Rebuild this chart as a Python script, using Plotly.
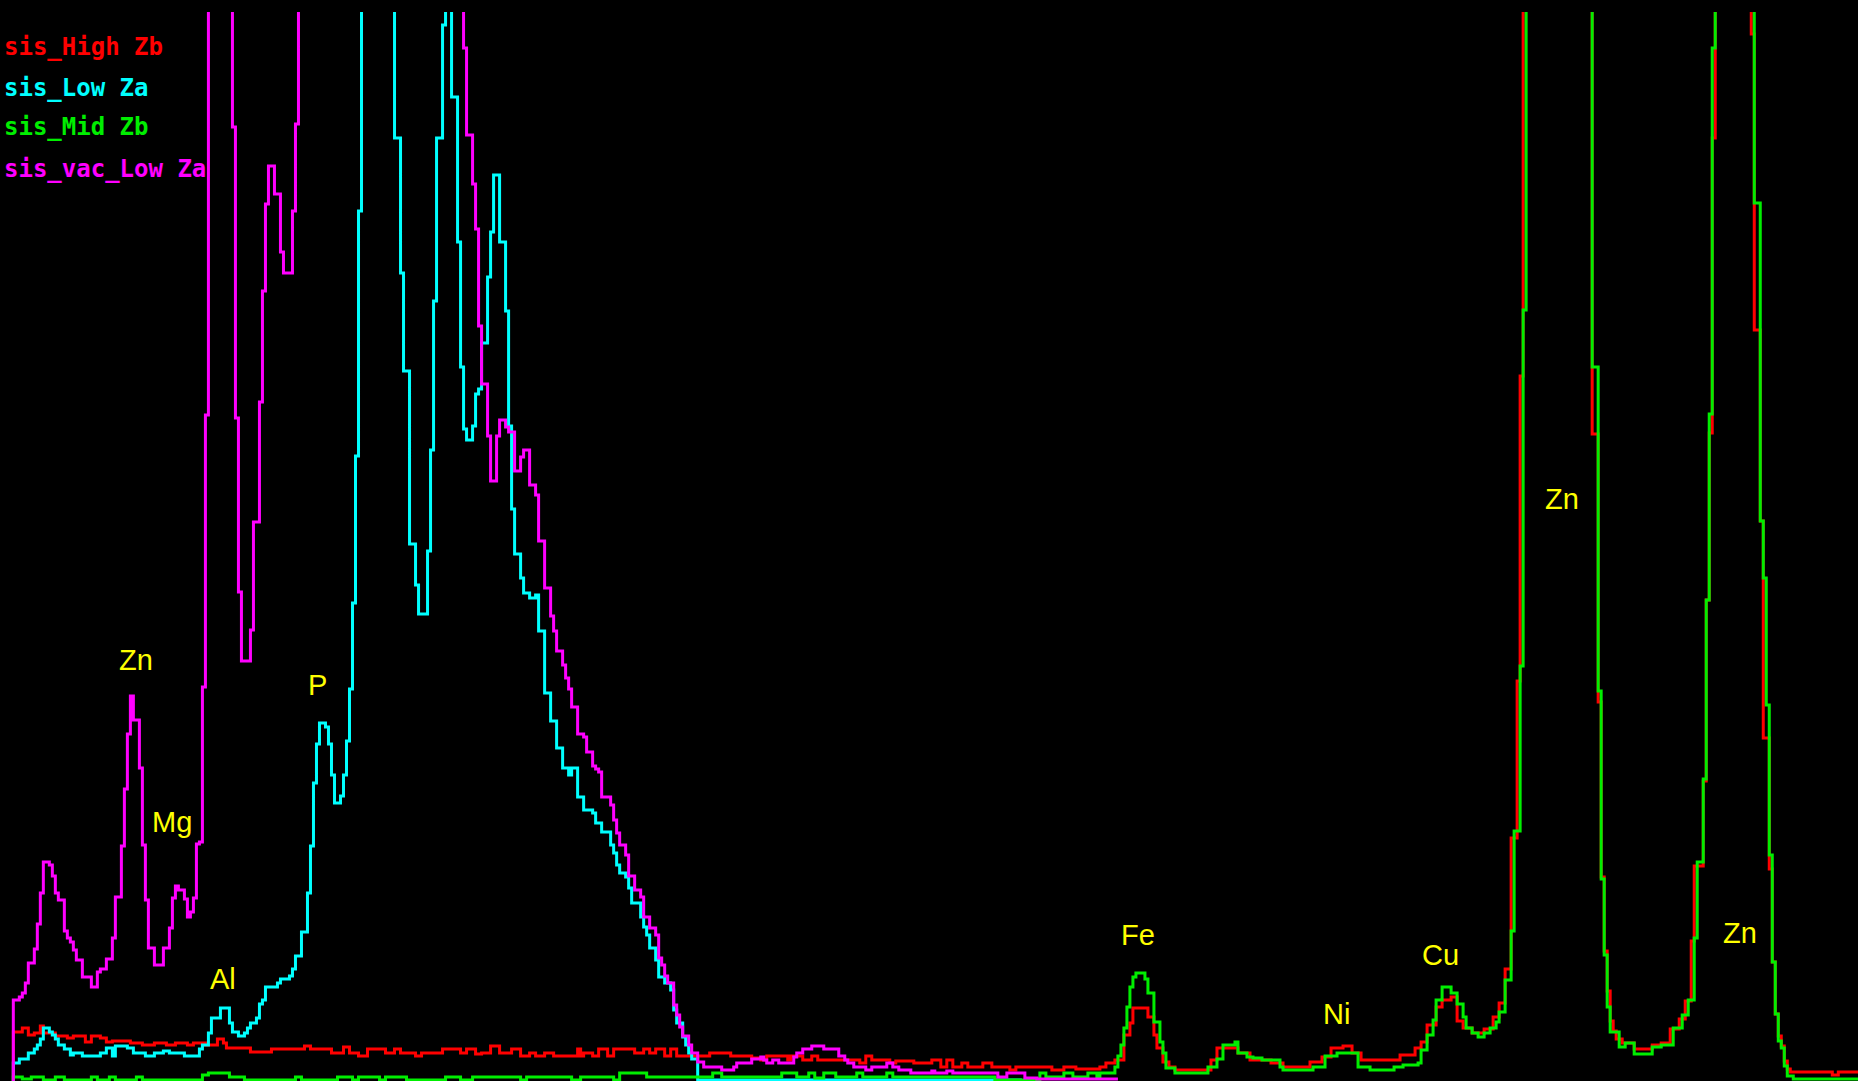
import plotly.graph_objects as go

# EDS spectrum: channel numbers and counts (step data), energy calibration
E0_KEV = 0.329
GAIN_KEV = 0.016

HIGH_CH = [4,4,7,9,11,13,14,18,22,24,28,30,33,35,37,43,47,51,55,58,62,64,68,72,74,75,83,90,101,103,
           110,114,116,119,122,128,131,133,138,140,147,153,155,158,160,163,166,170,173,176,
           178,181,184,192,193,194,197,199,202,204,211,214,216,218,221,223,225,236,243,250,
           253,255,262,263,267,270,272,286,288,290,296,298,304,310,313,315,317,320,322,327,
           330,336,338,350,354,358,366,368,371,374,376,377,382,384,385,387,389,391,403,405,
           412,416,423,427,436,440,443,447,450,453,466,471,473,475,478,480,483,485,487,490,
           494,497,499,501,503,505,506,507,530,532,533,534,535,536,537,538,540,544,550,553,
           556,559,561,563,564,567,568,569,570,571,583,584,586,587,589,590,591,592,593,594,
           595,596,610,612,619]
HIGH_CT = [0,49,53,46,48,55,48,45,43,45,39,45,43,39,40,38,36,38,36,38,36,38,36,42,38,33,29,32,35,32,
           28,34,28,25,32,28,32,28,25,28,32,28,32,27,28,35,28,32,25,28,
           25,28,25,32,25,28,25,32,25,32,28,32,28,32,25,32,25,28,25,23,
           21,25,21,25,21,25,21,18,25,21,18,20,18,21,14,21,14,18,14,18,
           14,11,14,11,14,12,14,18,21,46,58,73,64,46,33,19,14,11,21,33,
           28,21,18,14,19,24,33,35,28,21,26,33,39,56,74,81,84,60,53,48,
           52,64,78,112,243,400,705,1500,647,379,204,130,90,60,50,42,38,32,36,38,
           52,62,80,140,215,300,481,648,943,1500,1047,751,560,343,212,119,67,45,35,20,
           12,9,6,9,9]

LOWZA_CH = [4,4,6,9,11,12,13,14,16,17,18,19,21,23,24,27,33,35,37,38,42,44,48,51,54,56,61,66,67,69,
            70,73,76,77,79,81,82,83,85,86,87,88,92,93,96,97,98,100,102,103,
            104,105,106,108,109,110,111,113,114,115,116,117,118,119,120,131,133,134,136,138,
            139,142,143,144,145,147,148,150,152,153,154,155,157,158,159,160,162,163,164,166,
            168,169,170,171,173,174,176,178,179,181,183,185,187,189,190,192,194,197,198,200,
            203,204,205,206,208,209,210,213,214,215,216,218,219,221,223,224,225,227,228,229,
            230,232,340]
LOWZA_CT = [0,18,22,28,32,36,42,53,49,46,42,36,32,26,28,25,28,33,25,35,33,28,25,28,30,28,25,32,36,48,
            63,73,58,49,45,48,53,58,63,77,81,94,98,102,105,112,125,149,188,235,
            298,337,358,354,337,306,278,285,306,340,392,478,625,870,1500,943,808,710,537,496,
            467,530,631,780,943,1056,1500,984,839,714,652,641,655,687,692,738,804,849,906,839,
            770,655,572,527,503,488,483,486,450,388,360,333,313,306,313,284,271,268,258,249,
            236,228,216,208,204,193,178,164,154,146,133,121,104,98,91,71,58,44,36,28,
            22,1,1]

MID_CH = [4,4,7,10,14,18,21,30,32,36,38,45,47,67,69,76,81,98,100,112,
          117,119,126,128,135,148,153,157,173,175,190,193,204,206,215,237,240,253,260,265,
          269,271,274,278,285,287,295,297,331,346,348,354,357,362,365,366,371,372,373,374,
          375,376,377,378,381,382,384,386,387,388,391,402,405,407,411,412,415,417,420,426,
          427,437,441,445,452,456,464,467,472,473,475,477,478,480,483,485,487,488,490,492,
          494,496,498,499,501,503,504,506,507,508,530,532,533,534,535,536,539,541,544,550,
          553,557,560,562,564,565,567,568,569,570,571,584,586,587,588,589,590,591,592,593,
          594,595,597,619]
MID_CT = [0,4,2,4,1,4,1,4,1,4,1,4,1,6,8,4,1,4,1,4,
          1,4,1,4,1,4,1,4,1,4,1,4,1,8,4,8,4,4,8,4,
          8,3,8,4,8,4,8,4,1,8,4,8,4,8,4,8,14,25,36,53,
          74,94,104,108,102,88,59,39,28,13,8,14,22,36,39,28,24,23,21,14,
          11,14,25,28,14,11,14,16,18,31,46,61,81,94,88,77,64,53,48,44,
          48,53,59,69,101,150,250,415,771,1500,714,390,202,126,74,49,34,38,27,34,
          36,53,66,81,143,219,302,481,667,1033,1500,878,560,503,376,226,119,67,40,33,
          15,5,2,2]

VAC_CH = [4,4,6,7,8,9,11,12,13,14,16,17,18,19,21,22,23,24,25,27,30,32,33,35,37,38,40,41,42,43,
          44,46,47,48,49,51,54,56,57,58,59,61,62,63,64,65,66,67,68,69,
          77,78,79,80,83,84,86,87,88,89,91,93,94,97,98,99,
          154,155,157,158,159,160,162,163,165,166,168,169,171,173,174,176,178,179,181,183,
          184,185,187,188,189,190,192,194,195,197,198,199,200,203,204,205,206,208,209,211,
          213,214,216,218,219,220,221,222,224,225,226,227,229,230,232,234,240,244,245,250,
          253,254,255,257,259,264,265,267,270,274,279,281,282,284,288,290,295,297,299,303,
          310,311,315,317,332,335,341,345,372]
VAC_CT = [0,81,84,88,98,118,132,157,188,219,216,205,188,181,150,143,139,131,121,104,94,109,112,122,143,184,235,292,347,385,
          361,313,236,181,133,116,133,153,183,195,191,182,164,169,183,237,239,394,666,1500,
          954,663,489,420,451,559,679,790,877,915,887,829,808,870,957,1500,
          1033,946,897,852,755,697,645,600,645,661,654,649,610,624,631,596,586,540,493,465,
          450,430,416,403,392,374,347,344,329,315,312,309,284,276,261,248,236,226,205,191,
          184,164,153,146,123,116,105,98,76,66,54,45,36,28,19,14,11,14,18,22,
          24,21,18,21,18,24,28,32,35,32,25,21,18,14,11,14,18,14,11,8,
          10,8,10,8,4,8,3,2,2]

SERIES_NAMES = ["sis_High Zb", "sis_Low Za", "sis_Mid Zb", "sis_vac_Low Za"]
SERIES_COLORS = ["#FF0000", "#00FFFF", "#00EE00", "#FF00FF"]

ELEM_LABELS = ["Zn", "Mg", "Al", "P", "Fe", "Ni", "Cu", "Zn", "Zn"]
ELEM_KEV = [1.047, 1.239, 1.511, 2.017, 6.388, 7.444, 8.003, 8.648, 9.597]
ELEM_CT = [421, 259, 102, 396, 146, 67, 126, 582, 148]


def to_kev(chs):
    return [E0_KEV + GAIN_KEV * c for c in chs]


fig = go.Figure()
series = [(HIGH_CH, HIGH_CT), (LOWZA_CH, LOWZA_CT), (MID_CH, MID_CT), (VAC_CH, VAC_CT)]
for (chs, cts), name, col in zip(series, SERIES_NAMES, SERIES_COLORS):
    fig.add_trace(go.Scatter(
        x=to_kev(chs), y=cts, mode="lines", name=name,
        line=dict(color=col, width=3, shape="hv"),
        showlegend=False, hoverinfo="skip"))

annotations = []
legend_counts = [1034, 993, 954, 912]
for name, col, yc in zip(SERIES_NAMES, SERIES_COLORS, legend_counts):
    annotations.append(dict(
        text="<b>" + name + "</b>", xref="paper", yref="y",
        x=2 / 1858, y=yc, xanchor="left", yanchor="middle", showarrow=False,
        font=dict(family="DejaVu Sans Mono", size=24, color=col)))

for lab, ek, ct in zip(ELEM_LABELS, ELEM_KEV, ELEM_CT):
    annotations.append(dict(
        text=lab, xref="x", yref="y", x=ek, y=ct, xanchor="center", yanchor="middle",
        showarrow=False, font=dict(family="Liberation Sans", size=29, color="#FFFF00")))

fig.update_layout(
    width=1858, height=1081,
    margin=dict(l=0, r=0, t=12, b=0, pad=0),
    paper_bgcolor="#000000", plot_bgcolor="#000000",
    xaxis=dict(range=[0.322, 10.226], visible=False, showgrid=False, zeroline=False),
    yaxis=dict(range=[0, 1069], visible=False, showgrid=False, zeroline=False),
    annotations=annotations,
)

fig.write_html(
    "out.html",
    config={"displayModeBar": False},
    post_script="document.body.style.margin='0';document.body.style.padding='0';"
                "document.body.style.overflow='hidden';"
                "document.body.style.background='#000000';",
)
